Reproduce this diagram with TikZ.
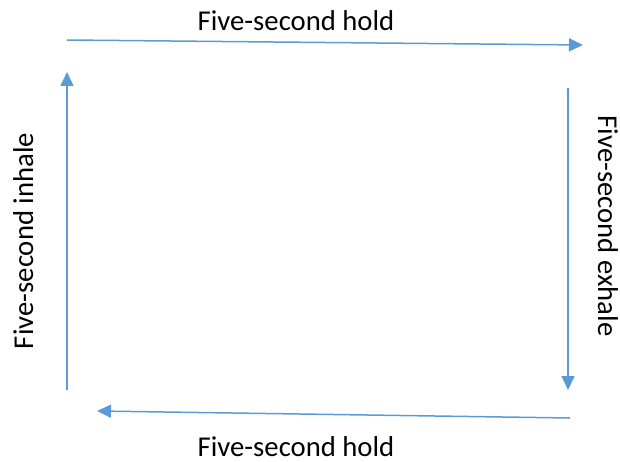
\documentclass[tikz,border=0pt]{standalone}
\usepackage{fontspec}
\setmainfont{Carlito}
\usetikzlibrary{arrows.meta}
\definecolor{arrowblue}{HTML}{5B9BD5}
\tikzset{
  flow/.style={draw=arrowblue, line width=1.5pt, -{Triangle[length=14pt,width=13pt]}},
  lab/.style={font=\fontsize{28.7}{34}\selectfont, text=black, inner sep=0pt, anchor=base, text depth=0pt}
}
\begin{document}
\begin{tikzpicture}[x=1pt,y=-1pt]
\useasboundingbox (0,0) rectangle (620,462);
\coordinate (ts) at (67,40);
\coordinate (te) at (583,45);
\coordinate (rs) at (568,88);
\coordinate (re) at (568,390);
\coordinate (bs) at (570,418);
\coordinate (be) at (97,411);
\coordinate (ls) at (67,390);
\coordinate (le) at (67,72);
\draw[flow] (ts) -- (te);
\draw[flow] (rs) -- (re);
\draw[flow] (bs) -- (be);
\draw[flow] (ls) -- (le);
\node[lab] (tlab) at (296,31) {Five-second hold};
\node[lab] (blab) at (296,456) {Five-second hold};
\node[lab, rotate=90] (llab) at (33,241) {Five-second inhale};
\node[lab, rotate=-90] (rlab) at (598,226) {Five-second exhale};
\end{tikzpicture}
\end{document}
